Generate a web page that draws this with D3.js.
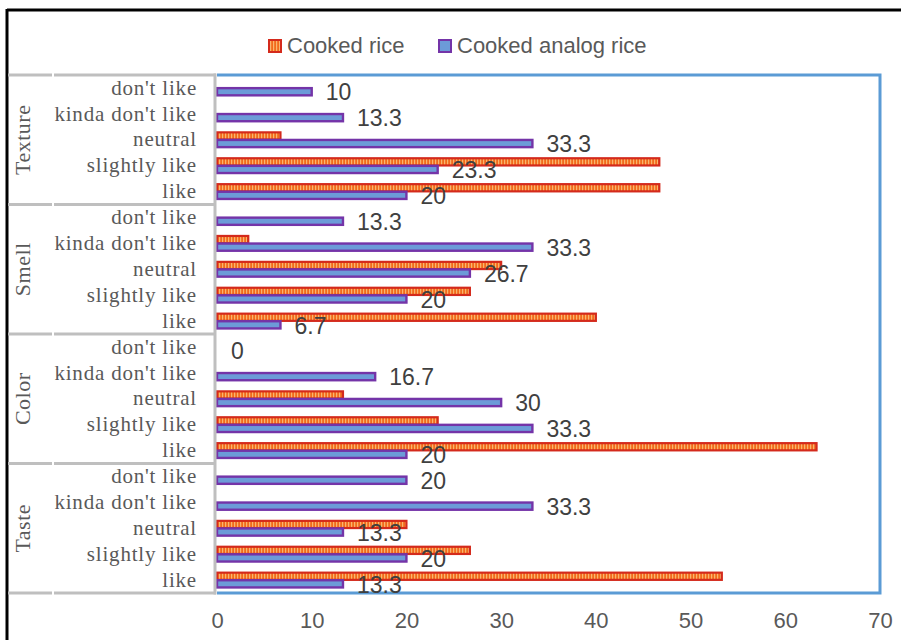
<!DOCTYPE html>
<html>
<head>
<meta charset="utf-8">
<script src="https://cdn.jsdelivr.net/npm/d3@7"></script>
<style>
  body { margin: 0; background: #fff; }
  svg { display: block; }
</style>
</head>
<body>
<svg id="chart" width="901" height="640"></svg>
<script>
// data, rows listed top to bottom
var groups = ["Texture", "Smell", "Color", "Taste"];
var levels = ["don't like", "kinda don't like", "neutral", "slightly like", "like"];
var cookedRice = [0, 0, 6.7, 46.7, 46.7,
                  0, 3.3, 30, 26.7, 40,
                  0, 0, 13.3, 23.3, 63.3,
                  0, 0, 20, 26.7, 53.3];
var analogRice = [10, 13.3, 33.3, 23.3, 20,
                  13.3, 33.3, 26.7, 20, 6.7,
                  0, 16.7, 30, 33.3, 20,
                  20, 33.3, 13.3, 20, 13.3];
var seriesNames = ["Cooked rice", "Cooked analog rice"];
var xTicks = [0, 10, 20, 30, 40, 50, 60, 70];

var svg = d3.select("#chart");

// plot box (window.top is reserved, so use other names)
var plotL = 217, plotR = 880, plotT = 75, plotB = 593;

var rows = [];
groups.forEach(function(g) {
  levels.forEach(function(l) { rows.push(g + "|" + l); });
});

var x = d3.scaleLinear().domain([0, 70]).range([plotL, plotR]);
var y = d3.scaleBand().domain(rows).range([plotT, plotB]).paddingInner(0.4).paddingOuter(0.2);
var ySub = d3.scaleBand().domain(seriesNames).range([0, y.bandwidth()]).padding(0.05);
var rowStep = (plotB - plotT) / rows.length;

var sans = "'Liberation Sans', Arial, sans-serif";
var serif = "'Liberation Serif', 'Times New Roman', serif";

// patterned fill for cooked rice
var defs = svg.append("defs");
var pat = defs.append("pattern")
    .attr("id", "ricePat")
    .attr("patternUnits", "userSpaceOnUse")
    .attr("width", 3).attr("height", 6);
pat.append("rect").attr("width", 3).attr("height", 6).attr("fill", "#F26A1B");
pat.append("rect").attr("x", 0).attr("width", 1.2).attr("height", 6).attr("fill", "#F9B56E");

// outer black frame
svg.append("line").attr("x1", 7).attr("x2", 901).attr("y1", 10).attr("y2", 10)
    .attr("stroke", "#000").attr("stroke-width", 3);
svg.append("line").attr("x1", 7).attr("x2", 7).attr("y1", 9).attr("y2", 640)
    .attr("stroke", "#000").attr("stroke-width", 3);

// legend
var legend = svg.append("g").attr("class", "legend");
var legX = [268, 438];
seriesNames.forEach(function(s, i) {
  legend.append("rect")
      .attr("x", legX[i] + 1).attr("y", 40).attr("width", 12).attr("height", 12)
      .attr("fill", i === 0 ? "url(#ricePat)" : "#6C9BD8")
      .attr("stroke", i === 0 ? "#D42A1C" : "#7434A8")
      .attr("stroke-width", 2);
  legend.append("text")
      .attr("x", legX[i] + 19).attr("y", 53)
      .style("font-family", sans)
      .style("font-size", "22px")
      .attr("fill", "#595959")
      .text(s);
});

// blue plot border
svg.append("path")
    .attr("d", "M" + plotL + "," + plotT + "H" + plotR + "V" + plotB + "H" + plotL)
    .attr("fill", "none")
    .attr("stroke", "#5B9BD5")
    .attr("stroke-width", 3);

// bars
var bars = svg.append("g");
rows.forEach(function(r, i) {
  if (cookedRice[i] > 0) {
    bars.append("rect")
        .attr("x", x(0))
        .attr("y", y(r) + ySub(seriesNames[0]))
        .attr("width", x(cookedRice[i]) - x(0))
        .attr("height", ySub.bandwidth())
        .attr("fill", "url(#ricePat)")
        .attr("stroke", "#D42A1C")
        .attr("stroke-width", 2.2);
  }
  if (analogRice[i] > 0) {
    bars.append("rect")
        .attr("x", x(0))
        .attr("y", y(r) + ySub(seriesNames[1]))
        .attr("width", x(analogRice[i]) - x(0))
        .attr("height", ySub.bandwidth())
        .attr("fill", "#6C9BD8")
        .attr("stroke", "#7434A8")
        .attr("stroke-width", 2.4);
  }
  // data label for analog rice
  bars.append("text")
      .attr("x", x(analogRice[i]) + 14)
      .attr("y", y(r) + ySub(seriesNames[1]) + ySub.bandwidth() / 2)
      .attr("dy", "0.38em")
      .style("font-family", sans)
      .style("font-size", "23px")
      .attr("fill", "#404040")
      .text(analogRice[i]);
});

// category table on the left
var table = svg.append("g");
groups.forEach(function(g, gi) {
  var gy = plotT + gi * 5 * rowStep;
  table.append("line").attr("x1", 8).attr("x2", 52).attr("y1", gy).attr("y2", gy)
      .attr("stroke", "#BFBFBF").attr("stroke-width", 3);
  table.append("line").attr("x1", 54).attr("x2", 216).attr("y1", gy).attr("y2", gy)
      .attr("stroke", "#BFBFBF").attr("stroke-width", 3);
  table.append("text")
      .attr("transform", "translate(30," + (gy + 2.5 * rowStep) + ") rotate(-90)")
      .attr("text-anchor", "middle")
      .style("font-family", serif)
      .style("font-size", "22px")
      .style("letter-spacing", "0.5px")
      .attr("fill", "#595959")
      .text(g);
});
table.append("line").attr("x1", 8).attr("x2", 52).attr("y1", plotB).attr("y2", plotB)
    .attr("stroke", "#BFBFBF").attr("stroke-width", 3);
table.append("line").attr("x1", 54).attr("x2", 216).attr("y1", plotB).attr("y2", plotB)
    .attr("stroke", "#BFBFBF").attr("stroke-width", 3);
table.append("line").attr("x1", 215).attr("x2", 215).attr("y1", plotT - 1.5).attr("y2", plotB + 1.5)
    .attr("stroke", "#BFBFBF").attr("stroke-width", 3);

rows.forEach(function(r) {
  table.append("text")
      .attr("x", 197)
      .attr("y", y(r) + y.bandwidth() / 2)
      .attr("dy", "0.32em")
      .attr("text-anchor", "end")
      .style("font-family", serif)
      .style("font-size", "21px")
      .style("letter-spacing", "0.8px")
      .attr("fill", "#595959")
      .text(r.split("|")[1]);
});

// x axis
var xAxis = svg.append("g")
    .attr("transform", "translate(0," + plotB + ")")
    .call(d3.axisBottom(x).tickValues(xTicks).tickSize(0).tickPadding(19));
xAxis.select(".domain").remove();
xAxis.selectAll("text")
    .style("font-family", sans)
    .style("font-size", "22px")
    .attr("fill", "#595959");
</script>
</body>
</html>
